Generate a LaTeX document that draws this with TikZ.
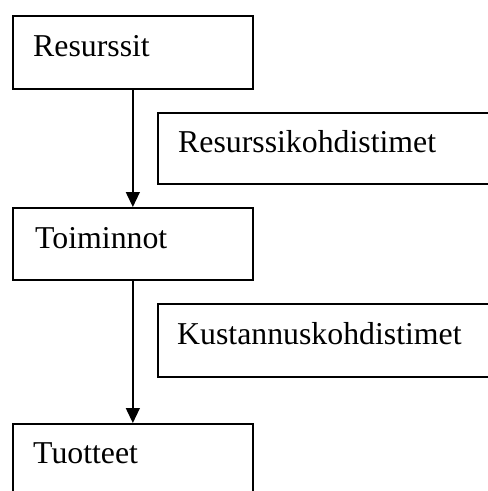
\documentclass[tikz,border=0pt]{standalone}
\usepackage{fontspec}
\setmainfont{Liberation Serif}
\usetikzlibrary{arrows.meta}
\begin{document}
\begin{tikzpicture}[x=1pt,y=-1pt,
  box/.style={draw, line width=1.7pt, rectangle, anchor=north west, inner sep=0pt},
  lbl/.style={anchor=base west, inner sep=0pt, font=\fontsize{31.8}{38}\selectfont},
  flow/.style={line width=1.3pt, -{Triangle[length=15pt,width=14pt]}}]
  \useasboundingbox (0,0) rectangle (488,491);
  \clip (0,0) rectangle (488,491);

  % stages
  \node[box, minimum width=240, minimum height=73] (res) at (12,15) {};
  \node[box, minimum width=240, minimum height=72] (toi) at (12,207) {};
  \node[box, minimum width=240, minimum height=110] (tuo) at (12,423) {};

  % drivers
  \node[box, minimum width=345, minimum height=71] (rk) at (157,112) {};
  \node[box, minimum width=345, minimum height=73] (kk) at (157,303) {};

  % texts
  \node[lbl] (tres) at ([xshift=21pt,yshift=-41pt]res.north west) {Resurssit};
  \node[lbl] (ttoi) at ([xshift=23pt,yshift=-41pt]toi.north west) {Toiminnot};
  \node[lbl] (ttuo) at ([xshift=21pt,yshift=-40pt]tuo.north west) {Tuotteet};
  \node[lbl] (trk) at ([xshift=21pt,yshift=-40pt]rk.north west) {Resurssikohdistimet};
  \node[lbl] (tkk) at ([xshift=20pt,yshift=-41pt]kk.north west) {Kustannuskohdistimet};

  % arrows
  \draw[flow] (res.south) -- (toi.north);
  \draw[flow] (toi.south) -- (tuo.north);
\end{tikzpicture}
\end{document}
